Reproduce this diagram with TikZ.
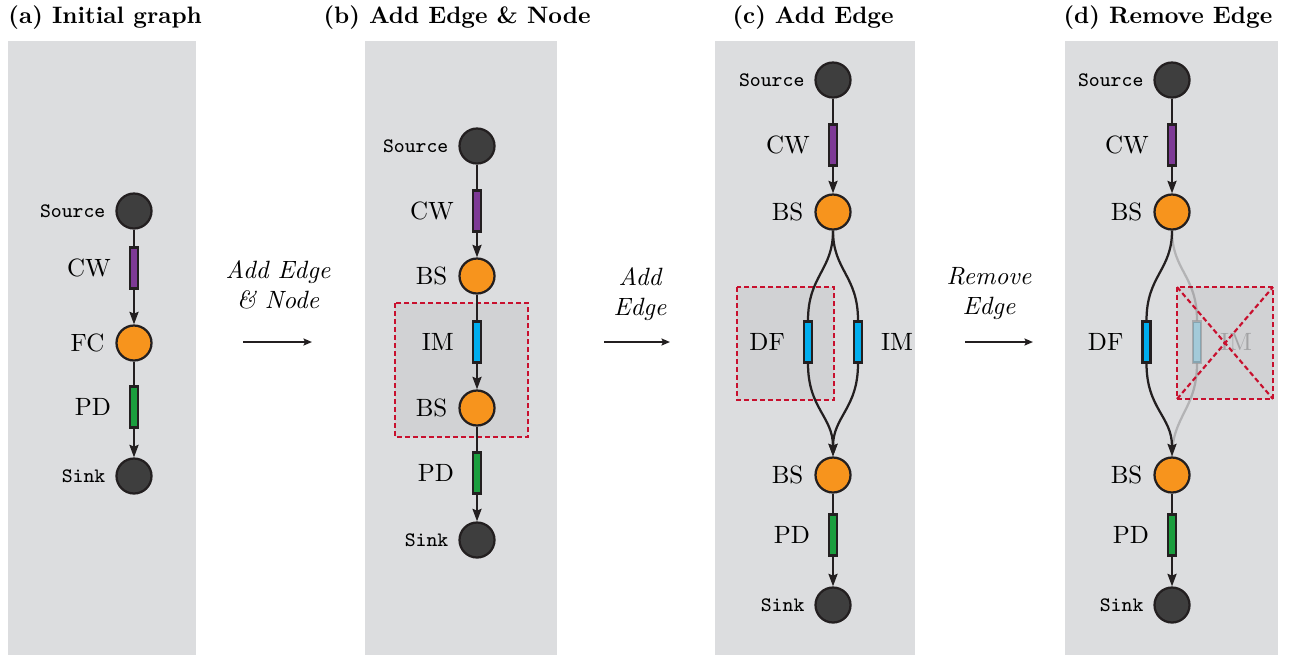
\documentclass[tikz,border=0pt]{standalone}
\usetikzlibrary{arrows.meta,positioning}
\definecolor{panelgray}{HTML}{DCDDDF}
\definecolor{boxgray}{HTML}{D1D2D4}
\definecolor{nodedark}{HTML}{3E3E3E}
\definecolor{bsorange}{HTML}{F7941D}
\definecolor{cwpurple}{HTML}{7E3A96}
\definecolor{pdgreen}{HTML}{1B9E3E}
\definecolor{imblue}{HTML}{00AEEF}
\definecolor{edgeblack}{HTML}{231F20}
\definecolor{markred}{HTML}{C8102E}
\tikzset{
  vtx/.style={circle,draw=edgeblack,line width=0.9pt,minimum size=14pt,inner sep=0pt},
  srcnode/.style={vtx,fill=nodedark},
  bsnode/.style={vtx,fill=bsorange},
  comp/.style={rectangle,draw=edgeblack,line width=0.9pt,minimum width=3.2pt,minimum height=16.4pt,inner sep=0pt},
  cwcomp/.style={comp,fill=cwpurple},
  pdcomp/.style={comp,fill=pdgreen},
  imcomp/.style={comp,fill=imblue},
  lbl/.style={font=\fontsize{10}{12}\selectfont,inner ysep=0pt,inner xsep=4.2pt},
  complbl/.style={font=\fontsize{10}{12}\selectfont,inner ysep=0pt,inner xsep=7pt},
  ttlbl/.style={font=\fontsize{8.2}{10}\selectfont\ttfamily,inner ysep=0pt,inner xsep=3.8pt},
  paneltitle/.style={font=\fontsize{9.5}{11}\selectfont\bfseries,inner sep=0pt,anchor=base west},
  transtext/.style={font=\fontsize{10}{12}\selectfont\itshape,align=center,inner sep=0pt},
  wire/.style={draw=edgeblack,line width=0.9pt},
  tip/.style={wire,-{Stealth[length=5pt,width=3.6pt,inset=0.7pt]}},
  trans/.style={draw=edgeblack,line width=0.75pt,-{Stealth[length=3.4pt,width=2.8pt,inset=0.6pt]}},
  markbox/.style={draw=markred,line width=0.85pt,dash pattern=on 2pt off 1.2pt},
  faded/.style={opacity=0.22}
}
\begin{document}
\begin{tikzpicture}[x=0.4pt,y=-0.4pt]
\useasboundingbox (0,0) rectangle (1290,655);
% panels
\fill[panelgray] (8,41) rectangle (196,655);
\fill[panelgray] (365,41) rectangle (557,655);
\fill[panelgray] (715,41) rectangle (915,655);
\fill[panelgray] (1065,41) rectangle (1278,655);
\node[paneltitle] (ta) at (8,23) {(a) Initial graph};
\node[paneltitle] (tb) at (323,23) {(b) Add Edge \& Node};
\node[paneltitle] (tc) at (732,23) {(c) Add Edge};
\node[paneltitle] (td) at (1063,23) {(d) Remove Edge};

% (a) initial graph
\node[srcnode,label={[ttlbl]left:Source}] (a-src) at (134,211) {};
\node[cwcomp,label={[complbl]left:CW}] (a-cw) at (134,268) {};
\node[bsnode,label={[lbl]left:FC}] (a-fc) at (134,343) {};
\node[pdcomp,label={[complbl]left:PD}] (a-pd) at (134,407) {};
\node[srcnode,label={[ttlbl]left:Sink}] (a-snk) at (134,476) {};
\draw[wire] (a-src) -- (a-cw);
\draw[tip] (a-cw) -- (a-fc);
\draw[wire] (a-fc) -- (a-pd);
\draw[tip] (a-pd) -- (a-snk);

% (b) add edge & node
\filldraw[markbox,fill=boxgray] (395,303) rectangle (528,437);
\node[srcnode,label={[ttlbl]left:Source}] (b-src) at (477,146) {};
\node[cwcomp,label={[complbl]left:CW}] (b-cw) at (477,211) {};
\node[bsnode,label={[lbl]left:BS}] (b-bs1) at (477,276) {};
\node[imcomp,label={[complbl]left:IM}] (b-im) at (477,342) {};
\node[bsnode,label={[lbl]left:BS}] (b-bs2) at (477,408) {};
\node[pdcomp,label={[complbl]left:PD}] (b-pd) at (477,473) {};
\node[srcnode,label={[ttlbl]left:Sink}] (b-snk) at (477,540) {};
\draw[wire] (b-src) -- (b-cw);
\draw[tip] (b-cw) -- (b-bs1);
\draw[wire] (b-bs1) -- (b-im);
\draw[tip] (b-im) -- (b-bs2);
\draw[wire] (b-bs2) -- (b-pd);
\draw[tip] (b-pd) -- (b-snk);

% (c) add edge
\filldraw[markbox,fill=boxgray] (737,287) rectangle (834,400);
\node[srcnode,label={[ttlbl]left:Source}] (c-src) at (833,80) {};
\node[cwcomp,label={[complbl]left:CW}] (c-cw) at (833,145) {};
\node[bsnode,label={[lbl]left:BS}] (c-bs1) at (833,212) {};
\node[imcomp,label={[complbl]left:DF}] (c-df) at (808,342) {};
\node[imcomp,label={[complbl]right:IM}] (c-im) at (858,342) {};
\node[bsnode,label={[lbl]left:BS}] (c-bs2) at (833,475) {};
\node[pdcomp,label={[complbl]left:PD}] (c-pd) at (833,535) {};
\node[srcnode,label={[ttlbl]left:Sink}] (c-snk) at (833,605) {};
\draw[wire] (c-src) -- (c-cw);
\draw[tip] (c-cw) -- (c-bs1);
\draw[wire] (c-bs1.south) .. controls +(0,40) and +(0,-45) .. (c-df.north);
\draw[wire] (c-bs1.south) .. controls +(0,40) and +(0,-45) .. (c-im.north);
\draw[tip] (c-df.south) .. controls +(0,45) and +(0,-40) .. (c-bs2.north);
\draw[tip] (c-im.south) .. controls +(0,45) and +(0,-40) .. (c-bs2.north);
\draw[wire] (c-bs2) -- (c-pd);
\draw[tip] (c-pd) -- (c-snk);

% (d) remove edge
\filldraw[markbox,fill=boxgray] (1177,287) rectangle (1273,399);
\node[srcnode,label={[ttlbl]left:Source}] (d-src) at (1172,80) {};
\node[cwcomp,label={[complbl]left:CW}] (d-cw) at (1172,145) {};
\node[bsnode,label={[lbl]left:BS}] (d-bs1) at (1172,212) {};
\node[imcomp,label={[complbl]left:DF}] (d-df) at (1146.5,342) {};
\node[imcomp,faded,label={[complbl,faded]right:IM}] (d-im) at (1197,342) {};
\node[bsnode,label={[lbl]left:BS}] (d-bs2) at (1172,475) {};
\node[pdcomp,label={[complbl]left:PD}] (d-pd) at (1172,535) {};
\node[srcnode,label={[ttlbl]left:Sink}] (d-snk) at (1172,605) {};
\draw[wire] (d-src) -- (d-cw);
\draw[tip] (d-cw) -- (d-bs1);
\draw[wire] (d-bs1.south) .. controls +(0,40) and +(0,-45) .. (d-df.north);
\draw[wire,faded] (d-bs1.south) .. controls +(0,40) and +(0,-45) .. (d-im.north);
\draw[tip] (d-df.south) .. controls +(0,45) and +(0,-40) .. (d-bs2.north);
\draw[wire,faded] (d-im.south) .. controls +(0,45) and +(0,-40) .. (d-bs2.north);
\draw[wire] (d-bs2) -- (d-pd);
\draw[tip] (d-pd) -- (d-snk);
\draw[markbox] (1177,287) -- (1273,399) (1177,399) -- (1273,287);

% transitions
\node[transtext] (t1) at (278,285) {Add Edge\\\& Node};
\coordinate (t1s) at (243,342); \coordinate (t1e) at (312,342);
\draw[trans] (t1s) -- (t1e);
\node[transtext] (t2) at (640,294) {Add\\Edge};
\coordinate (t2s) at (604,342); \coordinate (t2e) at (670,342);
\draw[trans] (t2s) -- (t2e);
\node[transtext] (t3) at (989,294) {Remove\\Edge};
\coordinate (t3s) at (965,342); \coordinate (t3e) at (1033,342);
\draw[trans] (t3s) -- (t3e);
\end{tikzpicture}
\end{document}
